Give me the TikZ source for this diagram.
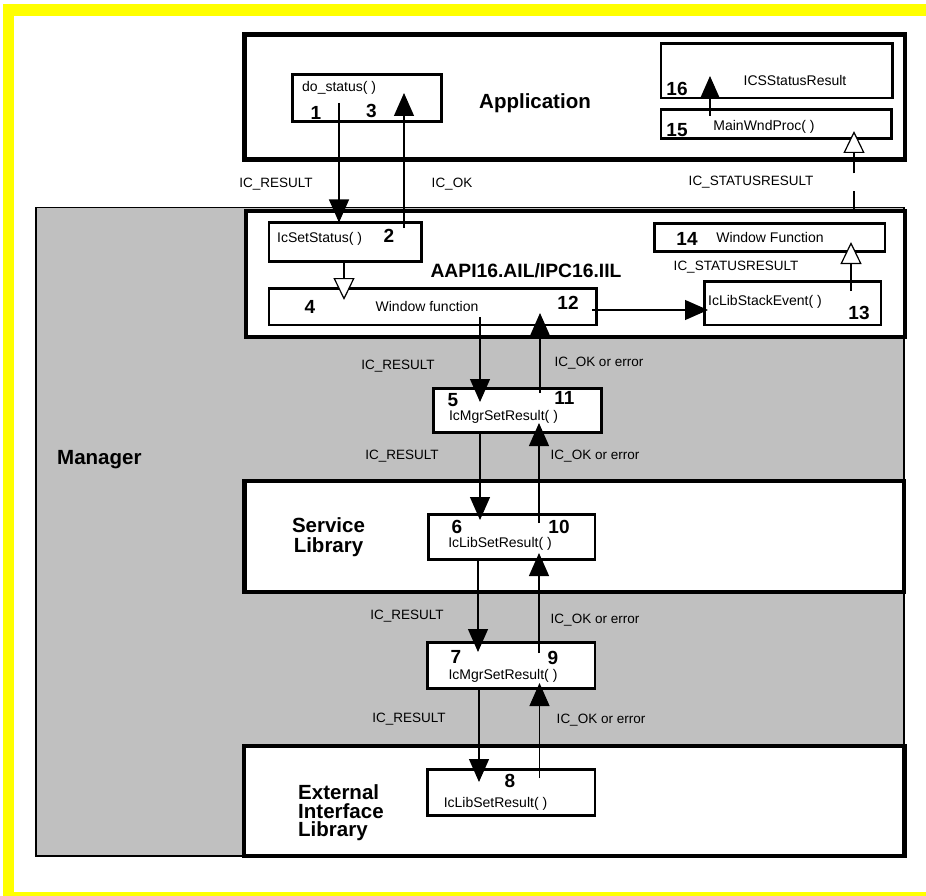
\documentclass[tikz,border=0pt]{standalone}
\usepackage{fontspec}
\setmainfont{Liberation Sans}
\usetikzlibrary{arrows.meta}
\definecolor{frameyellow}{RGB}{255,255,0}
\definecolor{mgrgray}{RGB}{192,192,192}

\begin{document}
\begin{tikzpicture}[x=1pt,y=-1pt,
  layerbox/.style={draw, line width=4.3pt, fill=white, inner sep=0pt, outer sep=0pt},
  mgrbox/.style={draw, line width=1.8pt, fill=mgrgray, inner sep=0pt, outer sep=0pt},
  fnbox/.style={draw, line width=2.8pt, fill=white, inner sep=0pt, outer sep=0pt},
  conn/.style={line width=1.2pt, -{Triangle[length=23pt,width=20pt]}},
  openconn/.style={line width=1.2pt, -{Triangle[open,fill=white,length=22pt,width=21pt]}},
  lbl/.style={font=\fontsize{13.5}{16}\selectfont, anchor=base, yshift=-4.8pt, inner sep=0pt},
  fntext/.style={font=\fontsize{14}{17}\selectfont, anchor=base, yshift=-5pt, inner sep=0pt},
  num/.style={font=\bfseries\fontsize{19}{22}\selectfont, anchor=base, yshift=-6.8pt, inner sep=0pt},
  ttl/.style={font=\bfseries\fontsize{20.5}{20}\selectfont, inner sep=0pt}
]
\useasboundingbox (0,0) rectangle (926,896);

% yellow page frame
\fill[frameyellow] (3,4) rectangle (926,16);
\fill[frameyellow] (3,4) rectangle (14,896);
\fill[frameyellow] (3,892) rectangle (926,896);

% layers
\node[layerbox, minimum width=660.5pt, minimum height=125pt] (app) at (574.75,97) {};
\node[mgrbox, minimum width=868pt, minimum height=648.5pt] (manager) at (470,531.75) {};
\node[layerbox, line width=4pt, minimum width=659pt, minimum height=125pt] (aapi) at (575,274) {};
\node[layerbox, minimum width=659.5pt, minimum height=111pt] (service) at (574.25,536.5) {};
\node[layerbox, minimum width=660.5pt, minimum height=110pt] (external) at (574.25,801) {};

% function boxes
\node[fnbox, line width=2.5pt, minimum width=149pt, minimum height=47pt] (dostatus) at (367,98) {};
\node[fnbox, minimum width=231.5pt, minimum height=54.5pt] (icsstatus) at (776.75,70.75) {};
\node[fnbox, minimum width=230.5pt, minimum height=29pt] (mainwnd) at (776.25,124) {};
\node[fnbox, minimum width=152.5pt, minimum height=39pt] (setstatus) at (345.25,242) {};
\node[fnbox, minimum width=327.5pt, minimum height=36.5pt] (winfn) at (432.75,306.75) {};
\node[fnbox, minimum width=230.5pt, minimum height=28pt] (winfnb) at (769.75,237.5) {};
\node[fnbox, minimum width=176.5pt, minimum height=43.5pt] (stackev) at (792.75,303.25) {};
\node[fnbox, minimum width=168pt, minimum height=44pt] (mgrA) at (517.5,410.5) {};
\node[fnbox, minimum width=166.5pt, minimum height=45pt] (libA) at (511.75,537) {};
\node[fnbox, minimum width=167.5pt, minimum height=46pt] (mgrB) at (511.25,665.5) {};
\node[fnbox, minimum width=167.5pt, minimum height=46pt] (libB) at (511.25,792.5) {};

% connector end points inside the boxes
\coordinate (p1) at (339,103);
\coordinate (p3a) at (404,228);
\coordinate (p3b) at (404,93);
\coordinate (p4b) at (344,300);
\coordinate (p12a) at (592,310);
\coordinate (p12b) at (708,310);
\coordinate (p13a) at (851,291);
\coordinate (p13b) at (851,242);
\coordinate (p14b) at (854,131);
\coordinate (p15a) at (710,116);
\coordinate (p15b) at (710,76);
\coordinate (p5a) at (480,317);
\coordinate (p5b) at (480,402);
\coordinate (p11a) at (540,393);
\coordinate (p11b) at (540,313);
\coordinate (p6b) at (480,520);
\coordinate (p10a) at (539,523);
\coordinate (p10b) at (539,423);
\coordinate (p7b) at (478,652);
\coordinate (p9a) at (539,653);
\coordinate (p9b) at (539,553);
\coordinate (p8b) at (479,782);
\coordinate (p8c) at (539.5,778);
\coordinate (p9c) at (539.5,683);

% connectors
\draw[conn] (p1) -- (p1 |- setstatus.north);
\draw[conn] (p3a) -- (p3b);
\draw[openconn] (p4b |- setstatus.south) -- (p4b);
\draw[conn] (p12a) -- (p12b);
\draw[openconn] (p13a) -- (p13b);
\draw[openconn, dash pattern=on 20pt off 18pt] (p14b |- aapi.north) -- (p14b);
\draw[conn] (p15a) -- (p15b);
\draw[conn] (p5a) -- (p5b);
\draw[conn] (p11a) -- (p11b);
\draw[conn] (p6b |- mgrA.south) -- (p6b);
\draw[conn] (p10a) -- (p10b);
\draw[conn] (p7b |- libA.south) -- (p7b);
\draw[conn] (p9a) -- (p9b);
\draw[conn] (p8b |- mgrB.south) -- (p8b);
\draw[conn] (p8c) -- (p9c);

% layer titles
\node[ttl, anchor=base] (tapp) at (535,109) {Application};
\node[ttl, anchor=base, font=\bfseries\fontsize{19.3}{20}\selectfont] (taapi) at (526,277) {AAPI16.AIL/IPC16.IIL};
\node[ttl, anchor=base west] (tmgr) at (57,464) {Manager};
\node[ttl, align=center, font=\bfseries\fontsize{20.5}{20}\selectfont] (tsvc) at (328.5,537.5) {Service\\Library};
\node[ttl, align=left, anchor=west, font=\bfseries\fontsize{20.5}{18.5}\selectfont] (text) at (298,813) {External\\Interface\\Library};

% function names
\node[fntext, anchor=base west] (tdo) at (302,87) {do\_status( )};
\node[fntext] (tics) at (795,81) {ICSStatusResult};
\node[fntext] (tmain) at (764,126) {MainWndProc( )};
\node[fntext, anchor=base west] (tset) at (277,238) {IcSetStatus( )};
\node[fntext] (twin) at (427,306) {Window function};
\node[fntext] (twinb) at (770,238) {Window Function};
\node[fntext, anchor=base west] (tstack) at (708,300.5) {IcLibStackEvent( )};
\node[fntext] (tmgrA) at (503.5,415) {IcMgrSetResult( )};
\node[fntext] (tlibA) at (500,542.5) {IcLibSetResult( )};
\node[fntext] (tmgrB) at (503,674.5) {IcMgrSetResult( )};
\node[fntext] (tlibB) at (495.5,802.5) {IcLibSetResult( )};

% step numbers
\node[num] (n1) at (316,112.5) {1};
\node[num] (n2) at (389,236) {2};
\node[num] (n3) at (371.5,110.7) {3};
\node[num] (n4) at (310,306.3) {4};
\node[num] (n5) at (453,399.5) {5};
\node[num] (n6) at (457,526.7) {6};
\node[num] (n7) at (456,656.3) {7};
\node[num] (n8) at (510,780.8) {8};
\node[num] (n9) at (553,657.8) {9};
\node[num] (n10) at (559,526.7) {10};
\node[num] (n11) at (564.5,397.5) {11};
\node[num] (n12) at (568,302.5) {12};
\node[num] (n13) at (859,312.5) {13};
\node[num] (n14) at (687,238.3) {14};
\node[num] (n15) at (677,130) {15};
\node[num] (n16) at (677,88.3) {16};

% message labels
\node[lbl] (l1) at (276,182.5) {IC\_RESULT};
\node[lbl] (l2) at (452,182.5) {IC\_OK};
\node[lbl] (l3) at (751,181) {IC\_STATUSRESULT};
\node[lbl] (l4) at (736,266) {IC\_STATUSRESULT};
\node[lbl] (l5) at (398,365) {IC\_RESULT};
\node[lbl] (l6) at (599,362) {IC\_OK or error};
\node[lbl] (l7) at (402,455) {IC\_RESULT};
\node[lbl] (l8) at (595,455) {IC\_OK or error};
\node[lbl] (l9) at (407,615) {IC\_RESULT};
\node[lbl] (l10) at (595,619) {IC\_OK or error};
\node[lbl] (l11) at (409,718) {IC\_RESULT};
\node[lbl] (l12) at (601,719) {IC\_OK or error};
\end{tikzpicture}
\end{document}
